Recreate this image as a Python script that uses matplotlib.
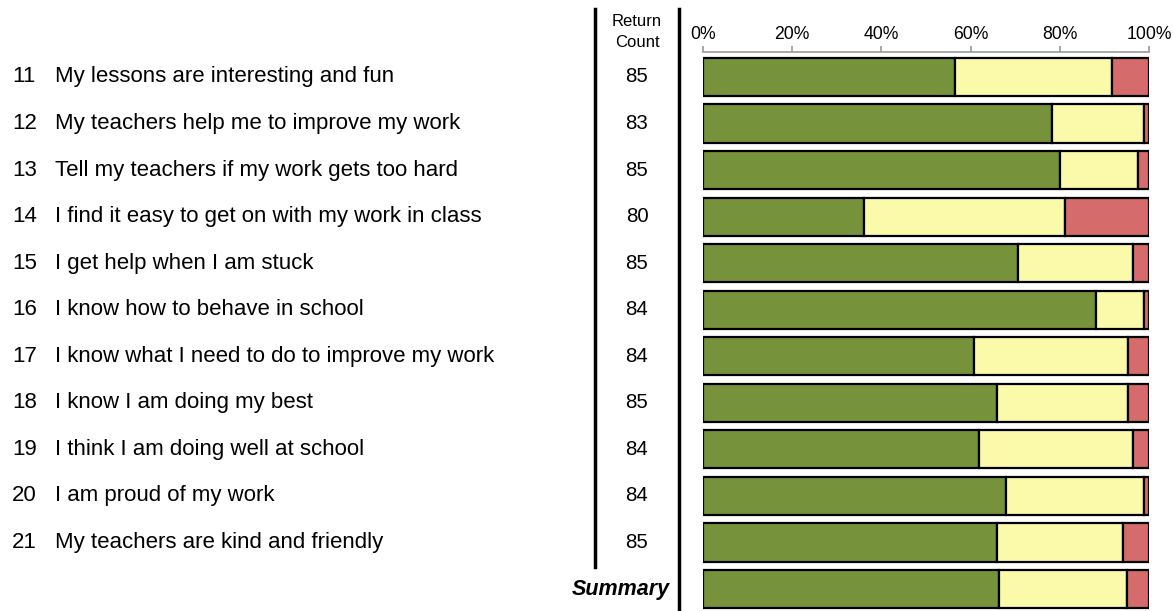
import matplotlib
matplotlib.use("Agg")
import matplotlib.pyplot as plt
import matplotlib.transforms as mtransforms
from matplotlib.lines import Line2D
import numpy as np

plt.rcParams['font.family'] = ['Liberation Sans', 'DejaVu Sans']

question_numbers = ["11", "12", "13", "14", "15", "16", "17", "18", "19", "20", "21"]
questions = [
    "My lessons are interesting and fun",
    "My teachers help me to improve my work",
    "Tell my teachers if my work gets too hard",
    "I find it easy to get on with my work in class",
    "I get help when I am stuck",
    "I know how to behave in school",
    "I know what I need to do to improve my work",
    "I know I am doing my best",
    "I think I am doing well at school",
    "I am proud of my work",
    "My teachers are kind and friendly",
]
return_counts = [85, 83, 85, 80, 85, 84, 84, 85, 84, 84, 85]

# percentages (last entry = Summary)
agree = [56.5, 78.3, 80.0, 36.2, 70.6, 88.1, 60.7, 65.9, 61.9, 67.9, 65.9, 66.4]
neutral = [35.3, 20.5, 17.6, 45.0, 25.9, 10.7, 34.5, 29.4, 34.5, 31.0, 28.2, 28.7]
disagree = [8.2, 1.2, 2.4, 18.8, 3.5, 1.2, 4.8, 4.7, 3.6, 1.1, 5.9, 4.9]

tick_values = [0, 20, 40, 60, 80, 100]
tick_labels = ["0%", "20%", "40%", "60%", "80%", "100%"]

W, H = 1173, 611
fig = plt.figure(figsize=(W / 100, H / 100), dpi=100)

left = 703 / W
right = 1149 / W
top_px, bot_px = 53.7, 610.0
ax = fig.add_axes([left, 1 - bot_px / H, right - left, (bot_px - top_px) / H])

n = len(agree)
y = np.arange(n)
green = "#76933C"
yellow = "#FAFAAA"
red = "#D66B6B"
bh = 0.82
a = np.array(agree)
nu = np.array(neutral)
d = np.array(disagree)
ax.barh(y, a, height=bh, color=green, edgecolor="black", linewidth=1.6)
ax.barh(y, nu, left=a, height=bh, color=yellow, edgecolor="black", linewidth=1.6)
ax.barh(y, d, left=a + nu, height=bh, color=red, edgecolor="black", linewidth=1.6)

ax.set_xlim(0, 100)
ax.set_ylim(n - 0.55, -0.5)
ax.xaxis.tick_top()
ax.set_xticks(tick_values, tick_labels)
ax.tick_params(axis='x', which='both', top=True, bottom=False, labeltop=True, labelbottom=False,
               direction='out', length=4.5, width=1.2, color="#999999", pad=2,
               labelsize=12.7, labelcolor="black")
ax.set_yticks([])
for s in ["left", "right", "bottom"]:
    ax.spines[s].set_visible(False)
ax.spines["top"].set_color("#999999")
ax.spines["top"].set_linewidth(1.2)
ax.spines["top"].set_position(("outward", 1))

fs = 16
trans = mtransforms.blended_transform_factory(fig.transFigure, ax.transData)
for i, (num, q, c) in enumerate(zip(question_numbers, questions, return_counts)):
    ax.text(12 / W, i, num, transform=trans, ha="left", va="center", fontsize=fs, clip_on=False)
    ax.text(55 / W, i, q, transform=trans, ha="left", va="center", fontsize=fs, clip_on=False)
    ax.text(637 / W, i, str(c), transform=trans, ha="center", va="center", fontsize=14.7, clip_on=False)
ax.text(670 / W, n - 1, "Summary", transform=trans, ha="right", va="center",
        fontsize=15.5, fontweight="bold", fontstyle="italic", clip_on=False)

fig.text(637 / W, 1 - 32 / H, "Return\nCount", ha="center", va="center", fontsize=12, linespacing=1.55)

fig.add_artist(Line2D([595 / W, 595 / W], [1 - 9 / H, 1 - 567 / H], color="black", linewidth=2.5))
fig.add_artist(Line2D([679 / W, 679 / W], [1 - 9 / H, 0], color="black", linewidth=2.5))

fig.savefig("out.png", dpi=100, facecolor="white")
